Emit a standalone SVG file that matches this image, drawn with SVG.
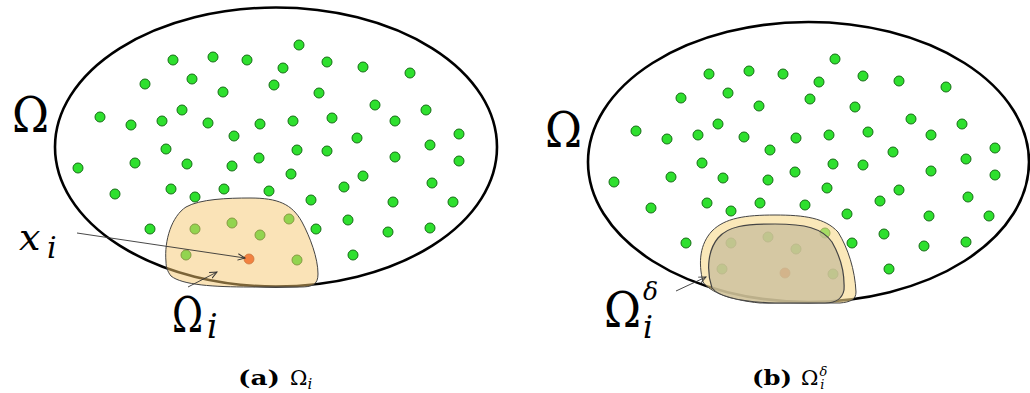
<svg xmlns="http://www.w3.org/2000/svg" xmlns:xlink="http://www.w3.org/1999/xlink" width="1030" height="393" viewBox="0 0 1030 393">
<defs>
<style>
.dom{fill:none;stroke:#000;stroke-width:2.6}
.pt{fill:#2ee02e;stroke:#176d17;stroke-width:1}
.red{fill:#ee3a10;stroke:#a02a10;stroke-width:0.8}
.ptr{fill:none;stroke:#333;stroke-width:0.9}
.big{font-family:"DejaVu Serif","Liberation Serif",serif;fill:#000}
.it{font-style:italic}
.cap{font-family:"DejaVu Serif","Liberation Serif",serif;font-size:21px;fill:#000}
</style>
<marker id="ah" viewBox="0 0 10 10" refX="9" refY="5" markerWidth="8" markerHeight="8" markerUnits="userSpaceOnUse" orient="auto">
<path d="M0,1 L9,5 L0,9" fill="none" stroke="#333" stroke-width="1.2"/>
</marker>
<g id="dots">
<circle class="pt" cx="173" cy="60" r="5"/><circle class="pt" cx="213" cy="57" r="5"/><circle class="pt" cx="247" cy="60" r="5"/><circle class="pt" cx="299" cy="45" r="5"/><circle class="pt" cx="283" cy="68" r="5"/><circle class="pt" cx="327" cy="62" r="5"/><circle class="pt" cx="363" cy="67" r="5"/><circle class="pt" cx="410" cy="73" r="5"/>
<circle class="pt" cx="145" cy="84" r="5"/><circle class="pt" cx="192" cy="79" r="5"/><circle class="pt" cx="223" cy="92" r="5"/><circle class="pt" cx="274" cy="85" r="5"/><circle class="pt" cx="319" cy="93" r="5"/><circle class="pt" cx="375" cy="105" r="5"/><circle class="pt" cx="426" cy="110" r="5"/>
<circle class="pt" cx="100" cy="117" r="5"/><circle class="pt" cx="131" cy="125" r="5"/><circle class="pt" cx="162" cy="121" r="5"/><circle class="pt" cx="182" cy="110" r="5"/><circle class="pt" cx="208" cy="123" r="5"/><circle class="pt" cx="260" cy="124" r="5"/><circle class="pt" cx="293" cy="121" r="5"/><circle class="pt" cx="332" cy="118" r="5"/><circle class="pt" cx="234" cy="136" r="5"/><circle class="pt" cx="357" cy="138" r="5"/><circle class="pt" cx="395" cy="121" r="5"/><circle class="pt" cx="459" cy="134" r="5"/>
<circle class="pt" cx="166" cy="149" r="5"/><circle class="pt" cx="297" cy="150" r="5"/><circle class="pt" cx="327" cy="151" r="5"/><circle class="pt" cx="430" cy="145" r="5"/>
<circle class="pt" cx="78" cy="168" r="5"/><circle class="pt" cx="135" cy="163" r="5"/><circle class="pt" cx="187" cy="164" r="5"/><circle class="pt" cx="232" cy="166" r="5"/><circle class="pt" cx="259" cy="158" r="5"/><circle class="pt" cx="395" cy="157" r="5"/><circle class="pt" cx="459" cy="161" r="5"/>
<circle class="pt" cx="291" cy="174" r="5"/><circle class="pt" cx="363" cy="176" r="5"/><circle class="pt" cx="432" cy="183" r="5"/>
<circle class="pt" cx="115" cy="194" r="5"/><circle class="pt" cx="171" cy="189" r="5"/><circle class="pt" cx="195" cy="197" r="5"/><circle class="pt" cx="224" cy="189" r="5"/><circle class="pt" cx="269" cy="191" r="5"/><circle class="pt" cx="311" cy="200" r="5"/><circle class="pt" cx="344" cy="187" r="5"/><circle class="pt" cx="393" cy="202" r="5"/><circle class="pt" cx="453" cy="202" r="5"/>
<circle class="pt" cx="150" cy="229" r="5"/><circle class="pt" cx="195" cy="229" r="5"/><circle class="pt" cx="232" cy="223" r="5"/><circle class="pt" cx="260" cy="235" r="5"/><circle class="pt" cx="289" cy="219" r="5"/><circle class="pt" cx="316" cy="229" r="5"/><circle class="pt" cx="348" cy="220" r="5"/><circle class="pt" cx="388" cy="232" r="5"/><circle class="pt" cx="430" cy="228" r="5"/>
<circle class="pt" cx="186" cy="255" r="5"/><circle class="pt" cx="297" cy="260" r="5"/><circle class="pt" cx="353" cy="255" r="5"/>
<circle class="red" cx="249" cy="259" r="5"/>
</g>
</defs>
<rect width="1030" height="393" fill="#fff"/>

<g id="panel-a">
<ellipse class="dom" cx="276" cy="147" rx="221" ry="139.5"/>
<use xlink:href="#dots"/>
<path id="omega-i" d="M166,262 C164,240 172,216 186,207 C200,199 228,198 250,198 C278,198 292,204 302,222 C310,237 318,258 318,274 C318,285 312,287 300,287 L250,287 C214,287 182,285 171,276 C167,271 166,266 166,262 Z" fill="#f5c870" fill-opacity="0.5" stroke="#444" stroke-width="1"/>
<text class="big" x="12" y="132" font-size="48" textLength="37" lengthAdjust="spacingAndGlyphs">Ω</text>
<text class="big it" x="19" y="250" font-size="38">x</text>
<text class="big it" x="47" y="258" font-size="30">i</text>
<text class="big" x="172" y="332" font-size="48" textLength="31" lengthAdjust="spacingAndGlyphs">Ω</text>
<text class="big it" x="207" y="338" font-size="33">i</text>
<text class="cap" x="238" y="385"><tspan font-weight="bold" textLength="42" lengthAdjust="spacingAndGlyphs">(a)</tspan><tspan x="290">Ω</tspan><tspan class="it" font-size="15" dy="4">i</tspan></text>
</g>

<g id="panel-b">
<ellipse class="dom" cx="808.5" cy="162" rx="220.5" ry="140"/>
<use xlink:href="#dots" transform="translate(536,14)"/>
<path id="omega-delta" d="M703,282 C698,262 700,244 712,231 C725,218 745,215 775,215 C805,215 825,218 838,232 C848,248 855,270 856,292 C856,300 850,302 840,303 L760,303 C730,300 710,292 703,282 Z" fill="#f7d98a" fill-opacity="0.6" stroke="#444" stroke-width="1"/>
<path id="omega-inner" d="M712,288 C706,270 708,250 718,238 C728,226 745,224 775,224 C805,224 822,228 832,242 C840,256 845,272 844,290 C842,300 835,303 825,303 L775,303 C745,302 720,298 712,288 Z" fill="#c8bd9c" fill-opacity="0.75" stroke="#444" stroke-width="1.2"/>
<text class="big" x="545" y="147" font-size="48" textLength="37" lengthAdjust="spacingAndGlyphs">Ω</text>
<text class="big" x="604" y="327" font-size="48" textLength="37" lengthAdjust="spacingAndGlyphs">Ω</text>
<text class="big it" x="643" y="300" font-size="25">δ</text>
<text class="big it" x="643" y="338" font-size="31">i</text>
<text class="cap" x="752" y="385"><tspan font-weight="bold" textLength="40" lengthAdjust="spacingAndGlyphs">(b)</tspan><tspan x="801">Ω</tspan><tspan class="it" font-size="13" dx="1" dy="-9">δ</tspan><tspan class="it" font-size="13" dx="-7" dy="13">i</tspan></text>
</g>

<g id="connectors">
<line class="ptr" x1="77" y1="233" x2="245" y2="258" marker-end="url(#ah)"/>
<line class="ptr" x1="188" y1="287" x2="217" y2="272" marker-end="url(#ah)"/>
<line class="ptr" x1="676" y1="291" x2="706" y2="277" marker-end="url(#ah)"/>
</g>
</svg>
